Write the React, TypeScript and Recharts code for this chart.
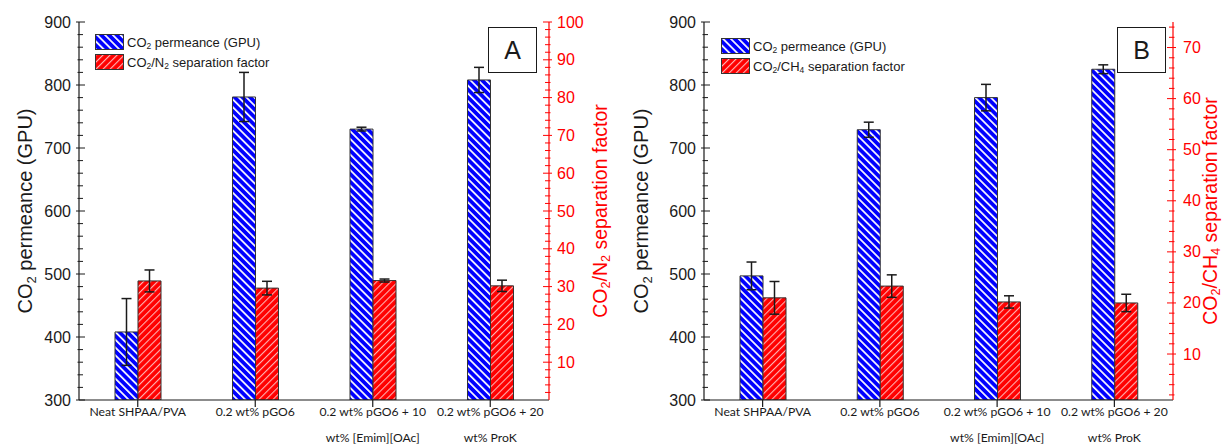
import React from 'react';
import { BarChart, Bar, XAxis, YAxis, ErrorBar, Legend } from 'recharts';

// ---------- data ----------
const categories = [
  'Neat SHPAA/PVA',
  '0.2 wt% pGO6',
  '0.2 wt% pGO6 + 10\nwt% [Emim][OAc]',
  '0.2 wt% pGO6 + 20\nwt% ProK',
];

const permeanceA = [408, 781, 730, 808];
const permeanceErrA = [53, 39, 3, 20];
const sepFactorA = [31.5, 29.6, 31.6, 30.2];
const sepFactorErrA = [2.9, 1.8, 0.4, 1.5];

const permeanceB = [497, 729, 780, 825];
const permeanceErrB = [22, 12, 21, 7];
const sepFactorB = [21.0, 23.3, 20.2, 20.0];
const sepFactorErrB = [3.2, 2.2, 1.2, 1.7];

const leftDomain = [300, 900];
const leftMajorTicks = [300, 400, 500, 600, 700, 800, 900];
const rightDomainA = [0, 100];
const rightMajorTicksA = [10, 20, 30, 40, 50, 60, 70, 80, 90, 100];
const rightDomainB = [1, 75];
const rightMajorTicksB = [10, 20, 30, 40, 50, 60, 70];

const RED = '#ff0000';
const BLACK = '#1a1a1a';
const FONT = '"Liberation Sans", Arial, sans-serif';

const buildRows = (perm: number[], permErr: number[], sep: number[], sepErr: number[]) =>
  categories.map((name, i) => ({ name, perm: perm[i], permErr: permErr[i], sep: sep[i], sepErr: sepErr[i] }));

const dataA = buildRows(permeanceA, permeanceErrA, sepFactorA, sepFactorErrA);
const dataB = buildRows(permeanceB, permeanceErrB, sepFactorB, sepFactorErrB);

// minor+major tick positions
const withMinors = (majors: number[], step: number, lo: number, hi: number) => {
  const out: number[] = [];
  for (let v = Math.ceil(lo / step) * step; v <= hi + 1e-9; v += step) out.push(Math.round(v * 1000) / 1000);
  majors.forEach((m) => { if (!out.includes(m)) out.push(m); });
  return out.sort((a, b) => a - b);
};

const makeYTick = (side: 'left' | 'right', color: string, majors: number[], labelGap: number) => (p: any) => {
  const v = p.payload.value;
  const x = p.x;
  const y = p.y;
  const major = majors.includes(v);
  const out = side === 'left' ? -1 : 1;
  const outLen = major ? 3 : 1.5;
  const inLen = major ? 6 : 4;
  return (
    <g>
      <line x1={x + out * outLen} x2={x - out * inLen} y1={y} y2={y} stroke={color} strokeWidth={1} />
      {major && (
        <text
          x={x + out * labelGap}
          y={y}
          textAnchor={side === 'left' ? 'end' : 'start'}
          dominantBaseline="central"
          fill={color}
          fontSize={16}
          fontFamily={FONT}
        >
          {v}
        </text>
      )}
    </g>
  );
};

const XTick = (p: any) => {
  const lines = String(p.payload.value).split('\n');
  return (
    <g>
      {lines.map((l, i) => (
        <text key={i} x={p.x} y={p.y + 9 + i * 26} textAnchor="middle" fontSize={12.2} fontFamily="Lato, sans-serif" fill={BLACK}>
          {l}
        </text>
      ))}
    </g>
  );
};

type Part = [string, boolean];

const renderParts = (parts: Part[], fs: number) =>
  parts.map(([t, sub], i) => {
    const prevSub = i > 0 && parts[i - 1][1];
    if (sub) {
      return (
        <tspan key={i} dy={fs * 0.3} fontSize={fs * 0.65}>
          {t}
        </tspan>
      );
    }
    return (
      <tspan key={i} dy={prevSub ? -fs * 0.3 : 0}>
        {t}
      </tspan>
    );
  });

const AxisTitle = (props: any) => {
  const { viewBox, parts, color, offsetX, fs } = props;
  const vb = viewBox || { x: 0, y: 0, width: 0, height: 0 };
  const cx = vb.x + offsetX;
  const cy = vb.y + vb.height / 2;
  return (
    <text
      x={cx}
      y={cy}
      transform={`rotate(-90, ${cx}, ${cy})`}
      textAnchor="middle"
      dominantBaseline="central"
      fill={color}
      fontSize={fs}
      fontFamily={FONT}
    >
      {renderParts(parts, fs)}
    </text>
  );
};

const HatchDefs = ({ prefix }: { prefix: string }) => (
  <defs>
    <pattern id={`${prefix}-blue`} patternUnits="userSpaceOnUse" width={5.5} height={5.5} patternTransform="rotate(-45)">
      <rect width={5.5} height={5.5} fill="#0000ff" />
      <rect x={0} y={0} width={1.7} height={5.5} fill="#ffffff" />
    </pattern>
    <pattern id={`${prefix}-red`} patternUnits="userSpaceOnUse" width={5} height={5} patternTransform="rotate(45)">
      <rect width={5} height={5} fill="#ff0000" />
      <rect x={0} y={0} width={1.1} height={5} fill="#ffffff" opacity={0.7} />
    </pattern>
  </defs>
);

const LegendBox = ({ prefix, secondParts }: { prefix: string; secondParts: Part[] }) => (
  <svg width={240} height={40} style={{ display: 'block', overflow: 'visible' }}>
    <HatchDefs prefix={prefix} />
    <rect x={0.5} y={0.5} width={28} height={15} fill={`url(#${prefix}-blue)`} stroke="#333" strokeWidth={1} />
    <rect x={0.5} y={20.5} width={28} height={15} fill={`url(#${prefix}-red)`} stroke="#333" strokeWidth={1} />
    <text x={32} y={8} dominantBaseline="central" fontSize={13} fontFamily={FONT} fill={BLACK}>
      {renderParts([['CO', false], ['2', true], [' permeance (GPU)', false]], 13)}
    </text>
    <text x={32} y={28} dominantBaseline="central" fontSize={13} fontFamily={FONT} fill={BLACK}>
      {renderParts(secondParts, 13)}
    </text>
  </svg>
);

type PanelProps = {
  id: string;
  data: any[];
  width: number;
  leftW: number;
  rightW: number;
  rightDomain: number[];
  rightMajors: number[];
  rightTitle: Part[];
  rightTitleOffset: number;
  leftTitleOffset: number;
  legendLeft: number;
  legendTop: number;
  rightLabelGap: number;
};

const Panel = (pp: PanelProps) => {
  const leftTicks = withMinors(leftMajorTicks, 20, leftDomain[0], leftDomain[1]);
  const rightTicks = withMinors(pp.rightMajors, 2, pp.rightDomain[0], pp.rightDomain[1]).filter((v) => v > pp.rightDomain[0]);
  return (
    <BarChart
      width={pp.width}
      height={446}
      data={pp.data}
      margin={{ top: 22, right: 0, bottom: 0, left: 0 }}
      barGap={0}
      barSize={23}
    >
      <HatchDefs prefix={`bar${pp.id}`} />
      <XAxis
        xAxisId="bottom"
        dataKey="name"
        orientation="bottom"
        height={46}
        interval={0}
        tickSize={7}
        tickMargin={0}
        axisLine={{ stroke: BLACK, strokeWidth: 1.2 }}
        tickLine={{ stroke: BLACK, strokeWidth: 1.2 }}
        tick={XTick}
      />
      <XAxis
        xAxisId="top"
        dataKey="name"
        orientation="top"
        height={0}
        mirror
        interval={0}
        tickSize={7}
        tick={false}
        axisLine={{ stroke: RED, strokeWidth: 1.2 }}
        tickLine={{ stroke: RED, strokeWidth: 1.2 }}
      />
      <YAxis
        yAxisId="left"
        orientation="left"
        width={pp.leftW}
        domain={leftDomain}
        ticks={leftTicks}
        interval={0}
        tickSize={0}
        tickMargin={0}
        allowDataOverflow
        axisLine={{ stroke: BLACK, strokeWidth: 1.2 }}
        tickLine={false}
        tick={makeYTick('left', BLACK, leftMajorTicks, 8)}
        label={
          <AxisTitle
            parts={[['CO', false], ['2', true], [' permeance (GPU)', false]] as Part[]}
            color={BLACK}
            offsetX={pp.leftTitleOffset}
            fs={20}
          />
        }
      />
      <YAxis
        yAxisId="right"
        orientation="right"
        width={pp.rightW}
        domain={pp.rightDomain}
        ticks={rightTicks}
        interval={0}
        tickSize={0}
        tickMargin={0}
        allowDataOverflow
        axisLine={{ stroke: RED, strokeWidth: 1.2 }}
        tickLine={false}
        tick={makeYTick('right', RED, pp.rightMajors, pp.rightLabelGap)}
        label={<AxisTitle parts={pp.rightTitle} color={RED} offsetX={pp.rightTitleOffset} fs={19.5} />}
      />
      <Legend
        layout="horizontal"
        verticalAlign="middle"
        align="center"
        wrapperStyle={{ left: pp.legendLeft, top: pp.legendTop, width: 240, height: 40 }}
        content={() => (
          <LegendBox
            prefix={`leg${pp.id}`}
            secondParts={pp.id === 'A'
              ? ([['CO', false], ['2', true], ['/N', false], ['2', true], [' separation factor', false]] as Part[])
              : ([['CO', false], ['2', true], ['/CH', false], ['4', true], [' separation factor', false]] as Part[])}
          />
        )}
      />
      <Bar
        xAxisId="bottom"
        yAxisId="left"
        dataKey="perm"
        fill={`url(#bar${pp.id}-blue)`}
        stroke="#333"
        strokeWidth={1}
        isAnimationActive={false}
      >
        <ErrorBar dataKey="permErr" width={5} stroke={BLACK} strokeWidth={1.5} direction="y" />
      </Bar>
      <Bar
        xAxisId="bottom"
        yAxisId="right"
        dataKey="sep"
        fill={`url(#bar${pp.id}-red)`}
        stroke="#333"
        strokeWidth={1}
        isAnimationActive={false}
      >
        <ErrorBar dataKey="sepErr" width={5} stroke={BLACK} strokeWidth={1.5} direction="y" />
      </Bar>
    </BarChart>
  );
};

const LetterBox = ({ left, text }: { left: number; text: string }) => (
  <div
    style={{
      position: 'absolute',
      left,
      top: 27,
      width: 47,
      height: 44,
      border: '1.5px solid #1a1a1a',
      background: '#fff',
      display: 'flex',
      alignItems: 'center',
      justifyContent: 'center',
      fontFamily: FONT,
      fontSize: 25,
      color: BLACK,
    }}
  >
    {text}
  </div>
);

export default function App() {
  return (
    <div style={{ position: 'absolute', left: 0, top: 0, width: 1225, height: 446, background: '#fff', fontFamily: FONT, overflow: 'hidden' }}>
      <div style={{ position: 'absolute', left: 0, top: 0 }}>
        <Panel
          id="A"
          data={dataA}
          width={612}
          leftW={79}
          rightW={63}
          rightDomain={rightDomainA}
          rightMajors={rightMajorTicksA}
          rightTitle={[['CO', false], ['2', true], ['/N', false], ['2', true], [' separation factor', false]]}
          rightTitleOffset={51}
          leftTitleOffset={25}
          legendLeft={95}
          legendTop={34}
          rightLabelGap={8}
        />
      </div>
      <div style={{ position: 'absolute', left: 612, top: 0 }}>
        <Panel
          id="B"
          data={dataB}
          width={613}
          leftW={92}
          rightW={52}
          rightDomain={rightDomainB}
          rightMajors={rightMajorTicksB}
          rightTitle={[['CO', false], ['2', true], ['/CH', false], ['4', true], [' separation factor', false]]}
          rightTitleOffset={37}
          leftTitleOffset={29}
          legendLeft={109}
          legendTop={38}
          rightLabelGap={10}
        />
      </div>
      <LetterBox left={488} text="A" />
      <LetterBox left={1117} text="B" />
    </div>
  );
}
